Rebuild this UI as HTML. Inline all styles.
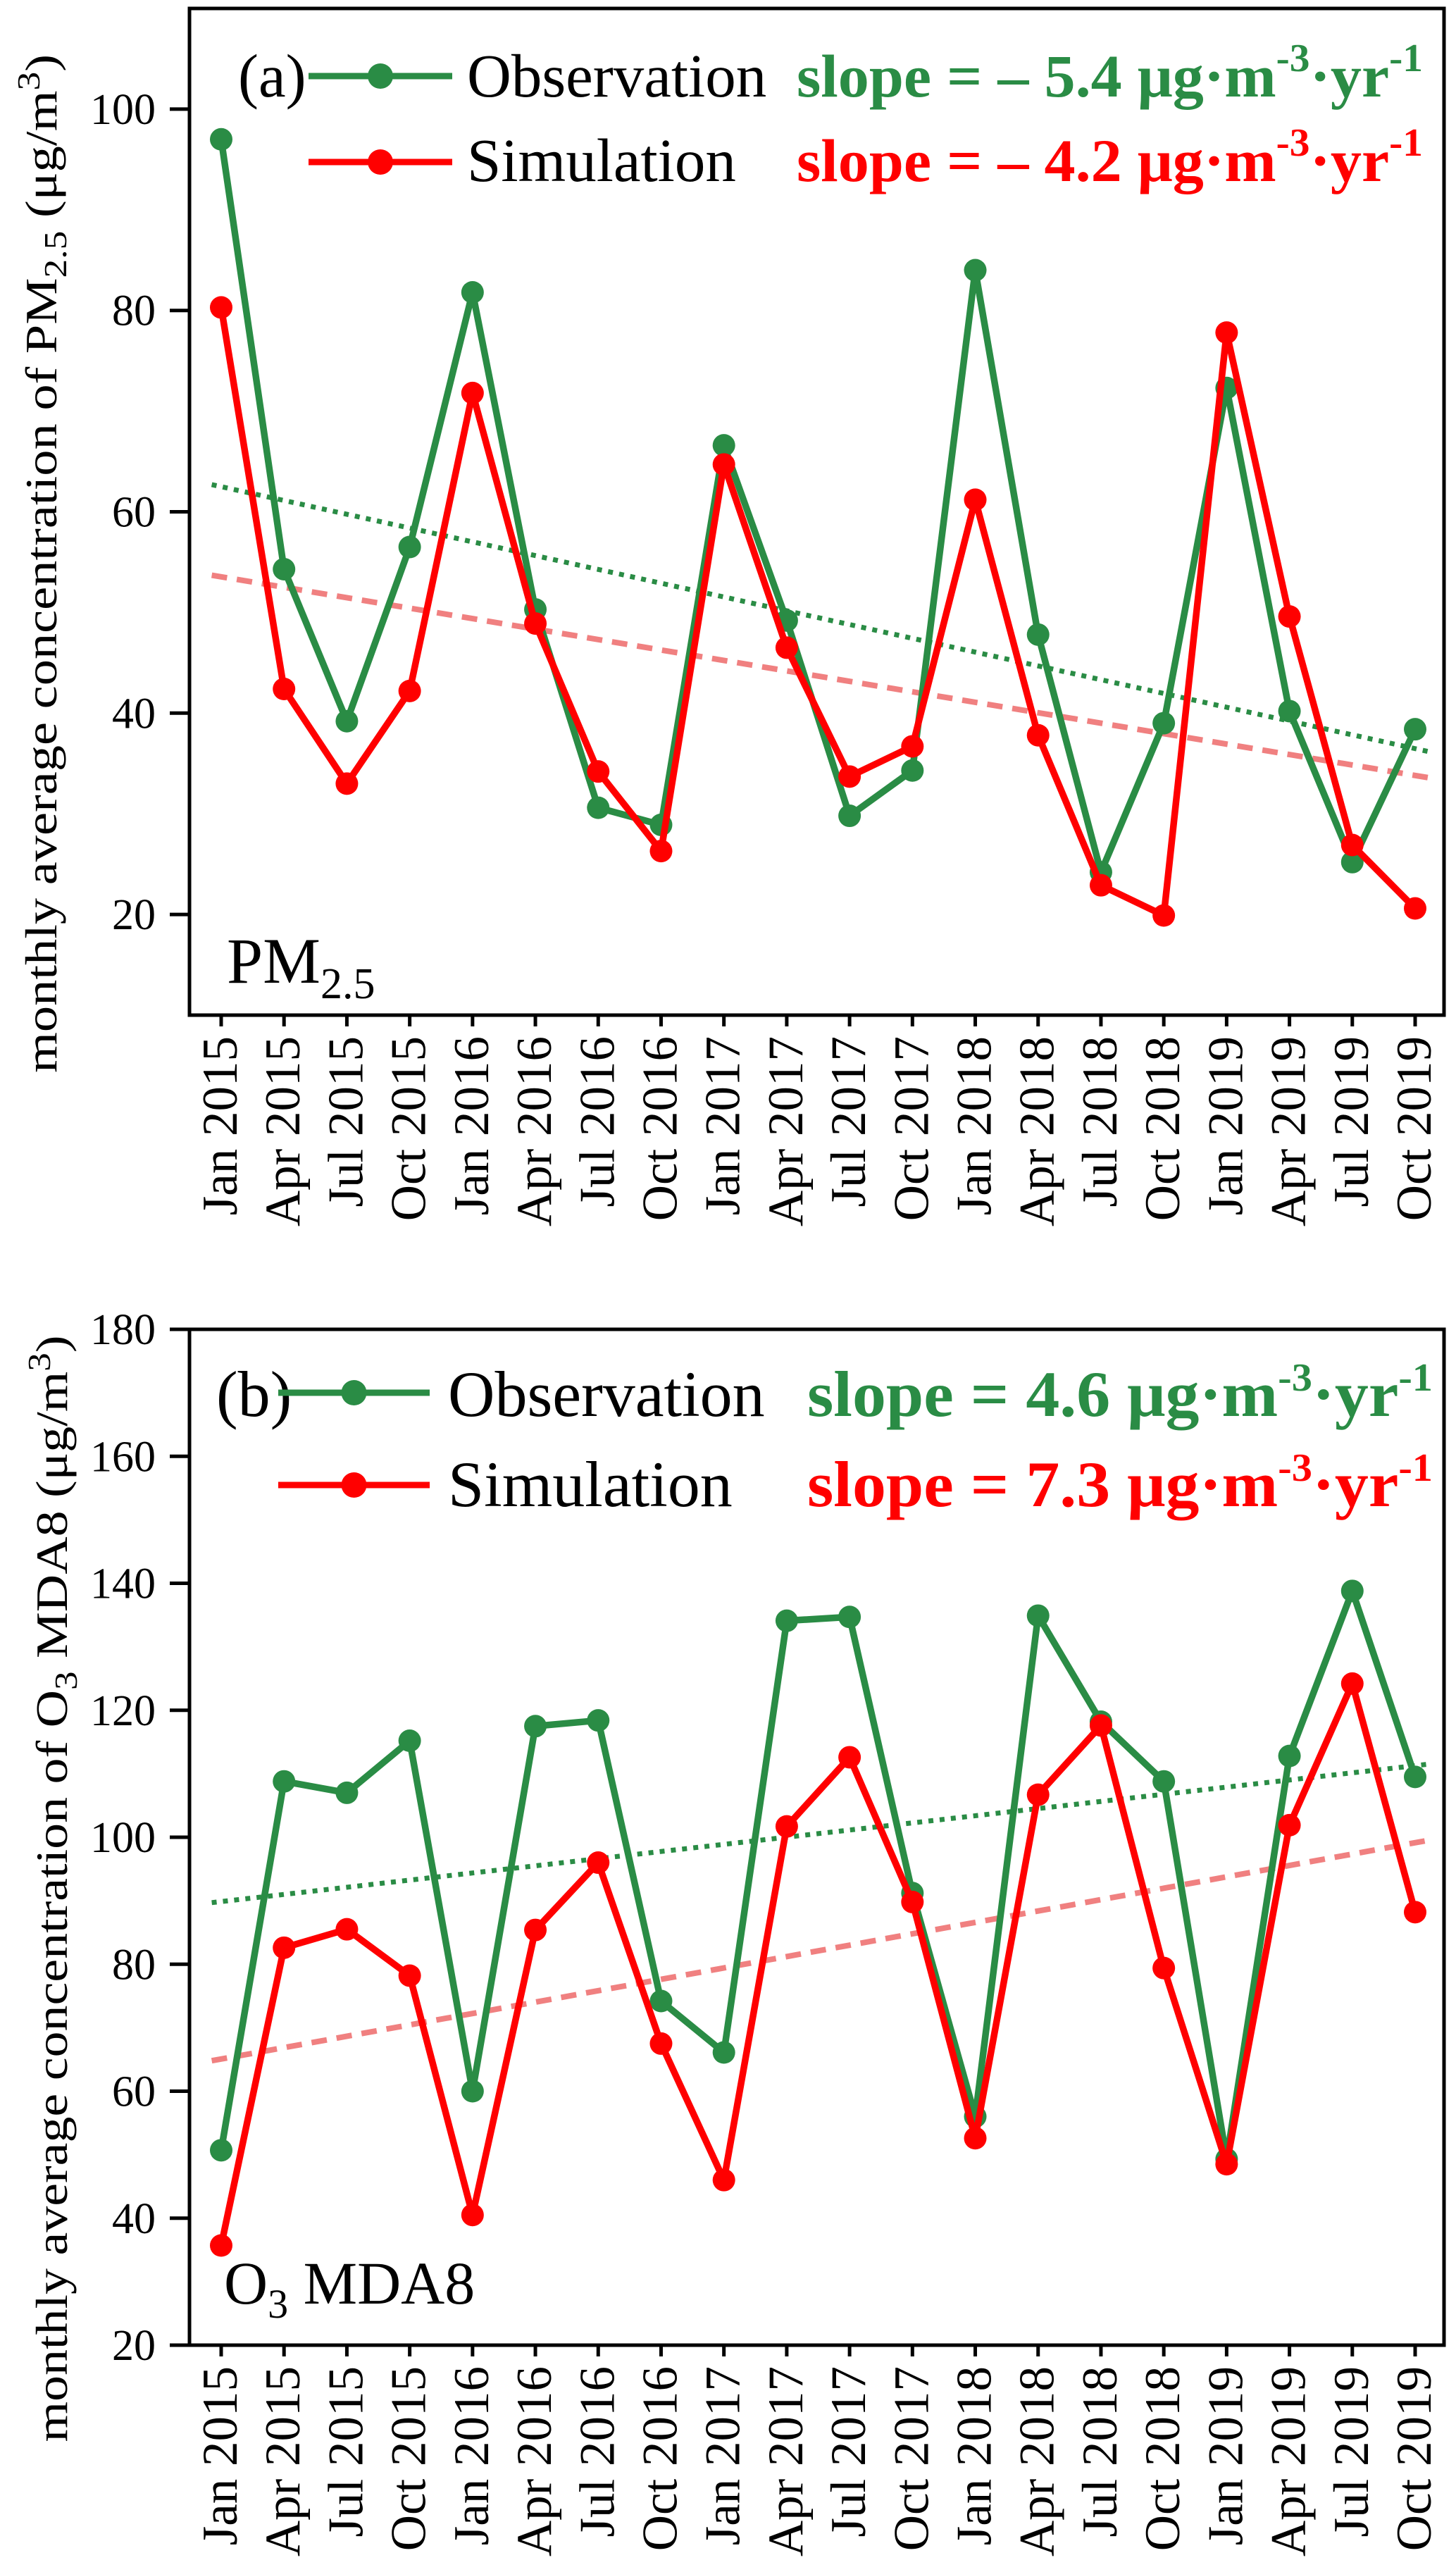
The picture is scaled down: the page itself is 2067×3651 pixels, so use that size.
<!DOCTYPE html>
<html><head><meta charset="utf-8"><style>
html,body{margin:0;padding:0;background:#fff;}
svg{display:block;font-family:"Liberation Serif",serif;}
</style></head><body>
<svg id="chart" width="2067" height="3651" viewBox="0 0 2067 3651" xmlns="http://www.w3.org/2000/svg"></svg>
<script>
const months = ["Jan 2015","Apr 2015","Jul 2015","Oct 2015","Jan 2016","Apr 2016","Jul 2016","Oct 2016","Jan 2017","Apr 2017","Jul 2017","Oct 2017","Jan 2018","Apr 2018","Jul 2018","Oct 2018","Jan 2019","Apr 2019","Jul 2019","Oct 2019"];
const pmObs = [97,54.3,39.2,56.5,81.8,50.3,30.6,28.9,66.6,49.2,29.8,34.3,84,47.8,24.2,39,72.3,40.2,25.2,38.4];
const pmSim = [80.3,42.4,33,42.2,71.8,48.9,34.2,26.3,64.7,46.5,33.7,36.7,61.2,37.8,22.9,19.9,77.8,49.6,26.9,20.6];
const pmTrendObs = [62.7,36.2];
const pmTrendSim = [53.7,33.6];
const pmTicks = [20,40,60,80,100];
const o3Obs = [50.7,108.8,107,115.2,60,117.5,118.4,74.2,66.1,134.1,134.7,91.2,56,134.9,118.2,108.8,49.3,112.8,138.8,109.5];
const o3Sim = [35.7,82.6,85.5,78.2,40.5,85.4,96,67.5,46,101.7,112.6,89.8,52.6,106.7,117.6,79.4,48.5,101.9,124.2,88.2];
const o3TrendObs = [89.7,111.5];
const o3TrendSim = [64.8,99.5];
const o3Ticks = [20,40,60,80,100,120,140,160,180];
const trendX = [-0.15,19.2];

const NS="http://www.w3.org/2000/svg";
const svg=document.getElementById('chart');
const GREEN="#2a8c45", RED="#ff0000", PINK="#f08080";
function mk(tag,attrs,parent){const e=document.createElementNS(NS,tag);for(const k in attrs)e.setAttribute(k,attrs[k]);(parent||svg).appendChild(e);return e;}

function panel(cfg){
  const g=mk('g',{});
  
  
  const L=269,R=2050,T=cfg.top,B=cfg.bottom;
  const xs=i=>314+i*(2009-314)/19;
  const ys=v=>B-(v-cfg.min)/(cfg.max-cfg.min)*(B-T);
  const t1=mk('line',{x1:xs(trendX[0]),y1:ys(cfg.tObs[0]),x2:xs(trendX[1]),y2:ys(cfg.tObs[1]),stroke:GREEN,'stroke-width':7,'stroke-dasharray':'7 9'},g);
  
  
  const t2=mk('line',{x1:xs(trendX[0]),y1:ys(cfg.tSim[0]),x2:xs(trendX[1]),y2:ys(cfg.tSim[1]),stroke:PINK,'stroke-width':8,'stroke-dasharray':'22 14'},g);
  
  
  [[cfg.obs,GREEN,'observation'],[cfg.sim,RED,'simulation']].forEach(([d,c,n])=>{
    const p=mk('polyline',{points:d.map((v,i)=>xs(i)+','+ys(v)).join(' '),fill:'none',stroke:c,'stroke-width':9.5,'stroke-linejoin':'round'},g);
    
    
    d.forEach((v,i)=>{
      const m=mk('circle',{cx:xs(i),cy:ys(v),r:16,fill:c},g);
      
      
    });
  });
  const f=mk('rect',{x:L,y:T,width:R-L,height:B-T,fill:'none',stroke:'#000','stroke-width':5},g);
  
  
  cfg.ticks.forEach(v=>{
    const tk=mk('line',{x1:L-28,x2:L,y1:ys(v),y2:ys(v),stroke:'#000','stroke-width':5},g);
    
    
    const tl=mk('text',{x:L-48,y:ys(v)+21,'text-anchor':'end','font-size':62},g);
    tl.textContent=v;
    
    
  });
  months.forEach((m,i)=>{
    const tk=mk('line',{x1:xs(i),x2:xs(i),y1:B,y2:B+16,stroke:'#000','stroke-width':5},g);
    
    
    const tx=xs(i)+22, ty=B+30;
    const tl=mk('text',{x:tx,y:ty,'text-anchor':'end','font-size':71,transform:`rotate(-90 ${tx} ${ty})`},g);
    tl.textContent=m;
    
    
  });
  const yt=mk('text',{x:0,y:0,'text-anchor':'middle','font-size':64,transform:`translate(${cfg.ytX} ${cfg.ytY}) rotate(-90)`,textLength:cfg.ytLen,lengthAdjust:'spacingAndGlyphs'},g);
  yt.innerHTML=cfg.ytHtml;
  
  
  const lg=mk('g',{},g);
  
  
  const lab=mk('text',{x:cfg.labX,y:cfg.obsBase,'font-size':cfg.legF},lg);
  lab.textContent=cfg.panelLabel;
  
  
  [[GREEN,cfg.obsLineY,cfg.obsBase,'Observation',cfg.slopeObs],[RED,cfg.simLineY,cfg.simBase,'Simulation',cfg.slopeSim]].forEach(([c,ly,base,txt,sl])=>{
    const e=mk('g',{},lg);
    
    
    mk('line',{x1:cfg.lx1,x2:cfg.lx2,y1:ly,y2:ly,stroke:c,'stroke-width':9},e);
    mk('circle',{cx:(cfg.lx1+cfg.lx2)/2,cy:ly,r:18,fill:c},e);
    const t=mk('text',{x:cfg.txX,y:base,'font-size':cfg.legF},e);
    t.textContent=txt;
    const s=mk('text',{x:cfg.slX,y:base,'font-size':cfg.slF,'font-weight':'bold',fill:c,textLength:cfg.slLen,lengthAdjust:'spacingAndGlyphs'},e);
    s.innerHTML=`slope = ${sl} μg·m<tspan dy="-36" font-size="56">-3</tspan><tspan dy="36">·yr</tspan><tspan dy="-36" font-size="56">-1</tspan>`;
    
    
  });
  const sp=mk('text',{x:cfg.spX,y:cfg.spY,'font-size':cfg.spF},g);
  sp.innerHTML=cfg.spHtml;
  
  
}

panel({name:'panel-a-pm25',top:12,bottom:1441,min:10,max:110,obs:pmObs,sim:pmSim,tObs:pmTrendObs,tSim:pmTrendSim,ticks:pmTicks,
  ytX:80,ytY:800,ytLen:1446,ytHtml:'monthly average concentration of PM<tspan dy="14" font-size="46">2.5</tspan><tspan dy="-14"> (μg/m</tspan><tspan dy="-24" font-size="46">3</tspan><tspan dy="24">)</tspan>',
  panelLabel:'(a)',labX:338,legF:87,obsLineY:108,simLineY:230,obsBase:137,simBase:257,lx1:438,lx2:642,txX:663,
  slX:1131,slF:86,slLen:889,slopeObs:'– 5.4',slopeSim:'– 4.2',
  spX:322,spY:1395,spF:92,spHtml:'PM<tspan dy="22" font-size="62">2.5</tspan>'});

panel({name:'panel-b-o3',top:1887,bottom:3329,min:20,max:180,obs:o3Obs,sim:o3Sim,tObs:o3TrendObs,tSim:o3TrendSim,ticks:o3Ticks,
  ytX:95,ytY:2681,ytLen:1571,ytHtml:'monthly average concentration of O<tspan dy="14" font-size="46">3</tspan><tspan dy="-14"> MDA8 (μg/m</tspan><tspan dy="-24" font-size="46">3</tspan><tspan dy="24">)</tspan>',
  panelLabel:'(b)',labX:307,legF:92,obsLineY:1977,simLineY:2108,obsBase:2010,simBase:2138,lx1:395,lx2:610,txX:636,
  slX:1146,slF:92,slLen:888,slopeObs:'4.6',slopeSim:'7.3',
  spX:318,spY:3270,spF:86,spHtml:'O<tspan dy="20" font-size="58">3</tspan><tspan dy="-20"> MDA8</tspan>'});
</script>
</body></html>
